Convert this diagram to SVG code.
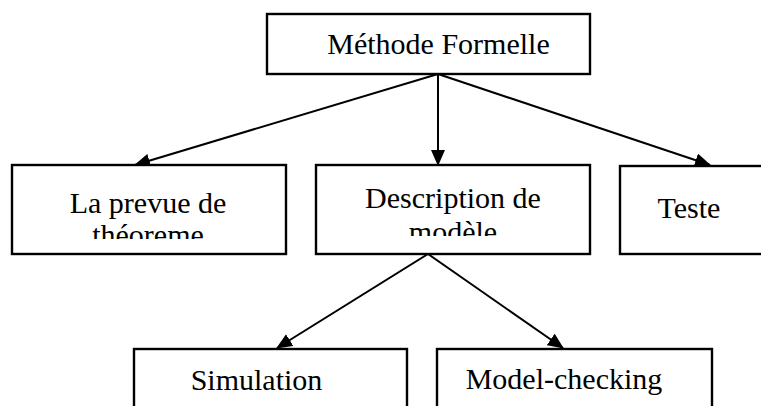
<svg xmlns="http://www.w3.org/2000/svg" width="761" height="406" viewBox="0 0 761 406">
<style>
.box{fill:#fff;stroke:#000;stroke-width:2.4}
.lbl{font-family:'Times New Roman','Liberation Serif','DejaVu Serif',serif;font-size:30px;fill:#000;text-anchor:middle}
.conn{stroke:#000;stroke-width:2;fill:none;marker-end:url(#ah)}
</style>
<defs>
<marker id="ah" markerUnits="userSpaceOnUse" markerWidth="16" markerHeight="14" refX="15" refY="7" orient="auto">
<path d="M0,0 L16,7 L0,14 z" fill="#000"/>
</marker>
<clipPath id="c1"><rect x="12" y="165" width="274" height="74"/></clipPath>
<clipPath id="c2"><rect x="316" y="165" width="274" height="71"/></clipPath>
</defs>
<rect width="761" height="406" fill="#fff"/>
<g id="connectors">
<line class="conn" x1="438" y1="74" x2="135" y2="165"/>
<line class="conn" x1="438" y1="74" x2="438" y2="165"/>
<line class="conn" x1="438" y1="74" x2="710" y2="165"/>
<line class="conn" x1="428" y1="254" x2="277" y2="348"/>
<line class="conn" x1="428" y1="254" x2="563" y2="348"/>
</g>
<g id="methode">
<rect class="box" x="267" y="14" width="323" height="60"/>
<text class="lbl" x="438.5" y="54" font-family="Liberation Serif, serif">Méthode Formelle</text>
</g>
<g id="preuve">
<rect class="box" x="12" y="165" width="274" height="89"/>
<g clip-path="url(#c1)">
<text class="lbl" x="148" y="213">La prevue de</text>
<text class="lbl" x="148" y="245">théoreme</text>
</g>
</g>
<g id="description">
<rect class="box" x="316" y="165" width="274" height="89"/>
<g clip-path="url(#c2)">
<text class="lbl" x="453" y="208">Description de</text>
<text class="lbl" x="453" y="242">modèle</text>
</g>
</g>
<g id="teste">
<rect class="box" x="620" y="166" width="160" height="88"/>
<text class="lbl" x="689" y="218">Teste</text>
</g>
<g id="simulation">
<rect class="box" x="134" y="349" width="273" height="80"/>
<text class="lbl" x="256.5" y="390">Simulation</text>
</g>
<g id="modelchecking">
<rect class="box" x="437" y="349" width="275" height="80"/>
<text class="lbl" x="564" y="389">Model-checking</text>
</g>
</svg>
